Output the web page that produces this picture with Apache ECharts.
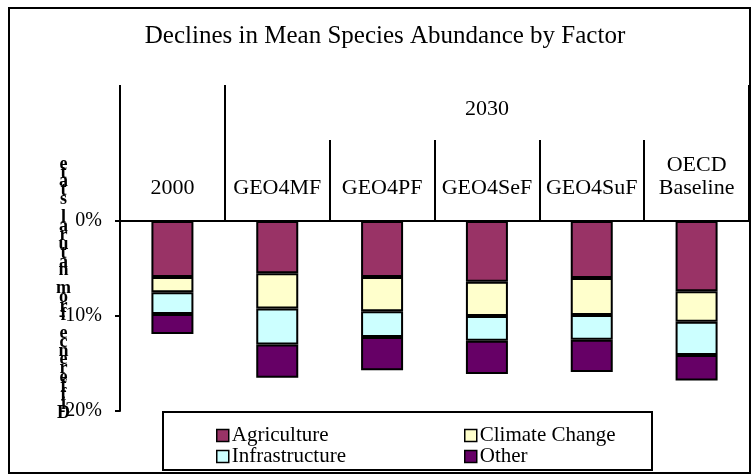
<!DOCTYPE html>
<html>
<head>
<meta charset="utf-8">
<script src="https://cdn.jsdelivr.net/npm/echarts@6/dist/echarts.min.js"></script>
<style>
  html, body { margin: 0; padding: 0; background: #fff; }
  #chart { width: 752px; height: 475px; }
</style>
</head>
<body>
<div id="chart"></div>
<script>
// 数据
const categories = ['2000', 'GEO4MF', 'GEO4PF', 'GEO4SeF', 'GEO4SuF', 'OECD\nBaseline'];
const groupLabel = '2030';
const groupBounds = [0, 1, 6]; // 2000 | 2030 (5 个情景)
const agriculture = [-5.9, -5.5, -5.9, -6.4, -6.0, -7.4];
const climateChange = [-1.6, -3.7, -3.6, -3.6, -3.9, -3.2];
const infrastructure = [-2.3, -3.8, -2.7, -2.6, -2.6, -3.5];
const other = [-2.1, -3.5, -3.5, -3.5, -3.4, -2.7];
const yTicks = [0, -10, -20];
const yName = 'Difference from natural state';

const FONT = 'Liberation Serif';
const categoryBounds = categories.map((_, i) => i).concat(categories.length);
const chart = echarts.init(document.getElementById('chart'), null, { renderer: 'canvas' });

function bar(name, data, color) {
  return {
    name: name,
    type: 'bar',
    stack: 'total',
    data: data,
    barWidth: 42,
    xAxisIndex: 0,
    itemStyle: { color: color, borderColor: '#000', borderWidth: 2 }
  };
}

// 只画刻度线的顶部辅助轴
function tickAxis(values, len, extra) {
  return Object.assign({
    type: 'value',
    position: 'top',
    min: 0,
    max: categories.length,
    axisLine: { show: false },
    splitLine: { show: false },
    axisTick: { customValues: values, length: len, lineStyle: { color: '#000', width: 2 } },
    axisLabel: { show: false }
  }, extra || {});
}

const legendText = { fontFamily: FONT, fontSize: 21, lineHeight: 20, color: '#000', padding: [0, 0, 0, -2] };

const option = {
  animation: false,
  backgroundColor: '#fff',
  title: {
    text: 'Declines in Mean Species Abundance by Factor',
    left: 380,
    textAlign: 'center',
    top: 19,
    textStyle: { fontFamily: FONT, fontSize: 25, fontWeight: 'normal', color: '#000' }
  },
  grid: { left: 120, top: 221, width: 629, height: 190 },
  xAxis: [
    {
      type: 'category',
      position: 'top',
      data: categories,
      axisLine: { lineStyle: { color: '#000', width: 2 } },
      axisTick: { show: false },
      axisLabel: {
        interval: 0, margin: 21, color: '#000',
        fontFamily: FONT, fontSize: 22, lineHeight: 23
      }
    },
    tickAxis(categoryBounds, 81),
    tickAxis(groupBounds, 136, {
      axisLabel: {
        show: true,
        customValues: [(groupBounds[1] + groupBounds[2]) / 2],
        formatter: () => groupLabel,
        margin: 101, color: '#000', fontFamily: FONT, fontSize: 22
      }
    })
  ],
  yAxis: {
    type: 'value',
    min: yTicks[yTicks.length - 1],
    max: yTicks[0],
    interval: 10,
    axisLine: { show: true, lineStyle: { color: '#000', width: 2 } },
    axisTick: { show: true, length: 5, lineStyle: { color: '#000', width: 2 } },
    splitLine: { show: false },
    axisLabel: {
      margin: 18, color: '#000', fontFamily: FONT, fontSize: 20,
      formatter: v => v + '%'
    }
  },
  legend: [
    {
      data: ['Agriculture', 'Infrastructure'],
      orient: 'vertical',
      left: 211, top: 420,
      itemWidth: 12, itemHeight: 12, itemGap: 0,
      icon: 'rect',
      itemStyle: { borderWidth: 1.5 },
      textStyle: legendText
    },
    {
      data: ['Climate Change', 'Other'],
      orient: 'vertical',
      left: 459, top: 420,
      itemWidth: 12, itemHeight: 12, itemGap: 0,
      icon: 'rect',
      itemStyle: { borderWidth: 1.5 },
      textStyle: legendText
    }
  ],
  graphic: [
    {
      type: 'rect', z: -1,
      shape: { x: 9, y: 8, width: 741, height: 465 },
      style: { fill: 'none', stroke: '#000', lineWidth: 2 }
    },
    {
      type: 'rect', z: 0,
      shape: { x: 163, y: 412, width: 489, height: 58 },
      style: { fill: '#fff', stroke: '#000', lineWidth: 2 }
    },
    {
      type: 'text', z: 5,
      left: 56, top: 155,
      style: {
        text: yName.split('').reverse().join('\n'),
        font: 'bold 18px "Liberation Serif"',
        lineHeight: 8.9,
        fill: '#000',
        textAlign: 'center'
      }
    }
  ],
  series: [
    bar('Agriculture', agriculture, '#993366'),
    bar('Climate Change', climateChange, '#FFFFCC'),
    bar('Infrastructure', infrastructure, '#CCFFFF'),
    bar('Other', other, '#660066')
  ]
};

chart.setOption(option);
</script>
</body>
</html>
